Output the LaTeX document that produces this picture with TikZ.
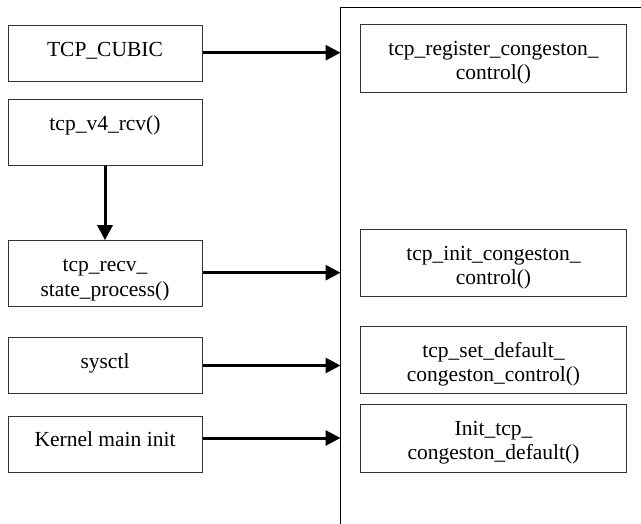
\documentclass[tikz,border=0pt]{standalone}
\usepackage{fontspec}
\setmainfont{LiberationSerif}[Extension=.ttf,UprightFont=*-Regular,BoldFont=*-Bold]
\usetikzlibrary{arrows.meta}
\begin{document}
\begin{tikzpicture}[x=1pt,y=-1pt,
  box/.style={draw=black!80,line width=1pt,inner sep=0pt},
  lbox/.style={box,minimum width=194pt},
  rbox/.style={box,minimum width=266pt,minimum height=67.7pt},
  txt/.style={inner sep=0pt,align=center,anchor=north,yshift=-14.2pt,
    font=\fontsize{21.5}{24.4}\selectfont},
  arr/.style={line width=3pt,-{Triangle[length=15pt,width=15pt]}}]
\useasboundingbox (0,0) rectangle (641,524);
% outer frame, open to the right and below
\draw[line width=1pt] (340.5,524) |- (641,7.5);
\coordinate (wall) at (340.5,0);
% callers on the left
\node[lbox,minimum height=56pt] (cubic) at (105,54) {};
\node[lbox,minimum height=66pt] (v4) at (105,133) {};
\node[lbox,minimum height=66pt] (recv) at (105,273.7) {};
\node[lbox,minimum height=56pt] (sysctl) at (105,365.5) {};
\node[lbox,minimum height=56pt] (kinit) at (105,444) {};
\node[txt] (cubic-t) at (cubic.north) {\strut TCP\_CUBIC};
\node[txt] (v4-t) at (v4.north) {\strut tcp\_v4\_rcv()};
\node[txt] (recv-t) at (recv.north) {\strut tcp\_recv\_\\state\_process()};
\node[txt] (sysctl-t) at (sysctl.north) {\strut sysctl};
\node[txt] (kinit-t) at (kinit.north) {\strut Kernel main init};
% functions inside the frame
\node[rbox] (reg) at (493.5,58.2) {};
\node[rbox] (initcc) at (493.5,262.9) {};
\node[rbox] (setdef) at (493.5,359.9) {};
\node[rbox] (initdef) at (493.5,438.2) {};
\node[txt] (reg-t) at (reg.north) {\strut tcp\_register\_congeston\_\\control()};
\node[txt] (initcc-t) at (initcc.north) {\strut tcp\_init\_congeston\_\\control()};
\node[txt] (setdef-t) at (setdef.north) {\strut tcp\_set\_default\_\\congeston\_control()};
\node[txt] (initdef-t) at (initdef.north) {\strut Init\_tcp\_\\congeston\_default()};
% calls
\draw[arr] (v4.south) -- (recv.north);
\draw[arr] ([yshift=1.3pt]cubic.east) -- ([yshift=1.3pt]cubic.east -| wall);
\draw[arr] ([yshift=1pt]recv.east) -- ([yshift=1pt]recv.east -| wall);
\draw[arr] (sysctl.east) -- (sysctl.east -| wall);
\draw[arr] ([yshift=6pt]kinit.east) -- ([yshift=6pt]kinit.east -| wall);
\end{tikzpicture}
\end{document}
